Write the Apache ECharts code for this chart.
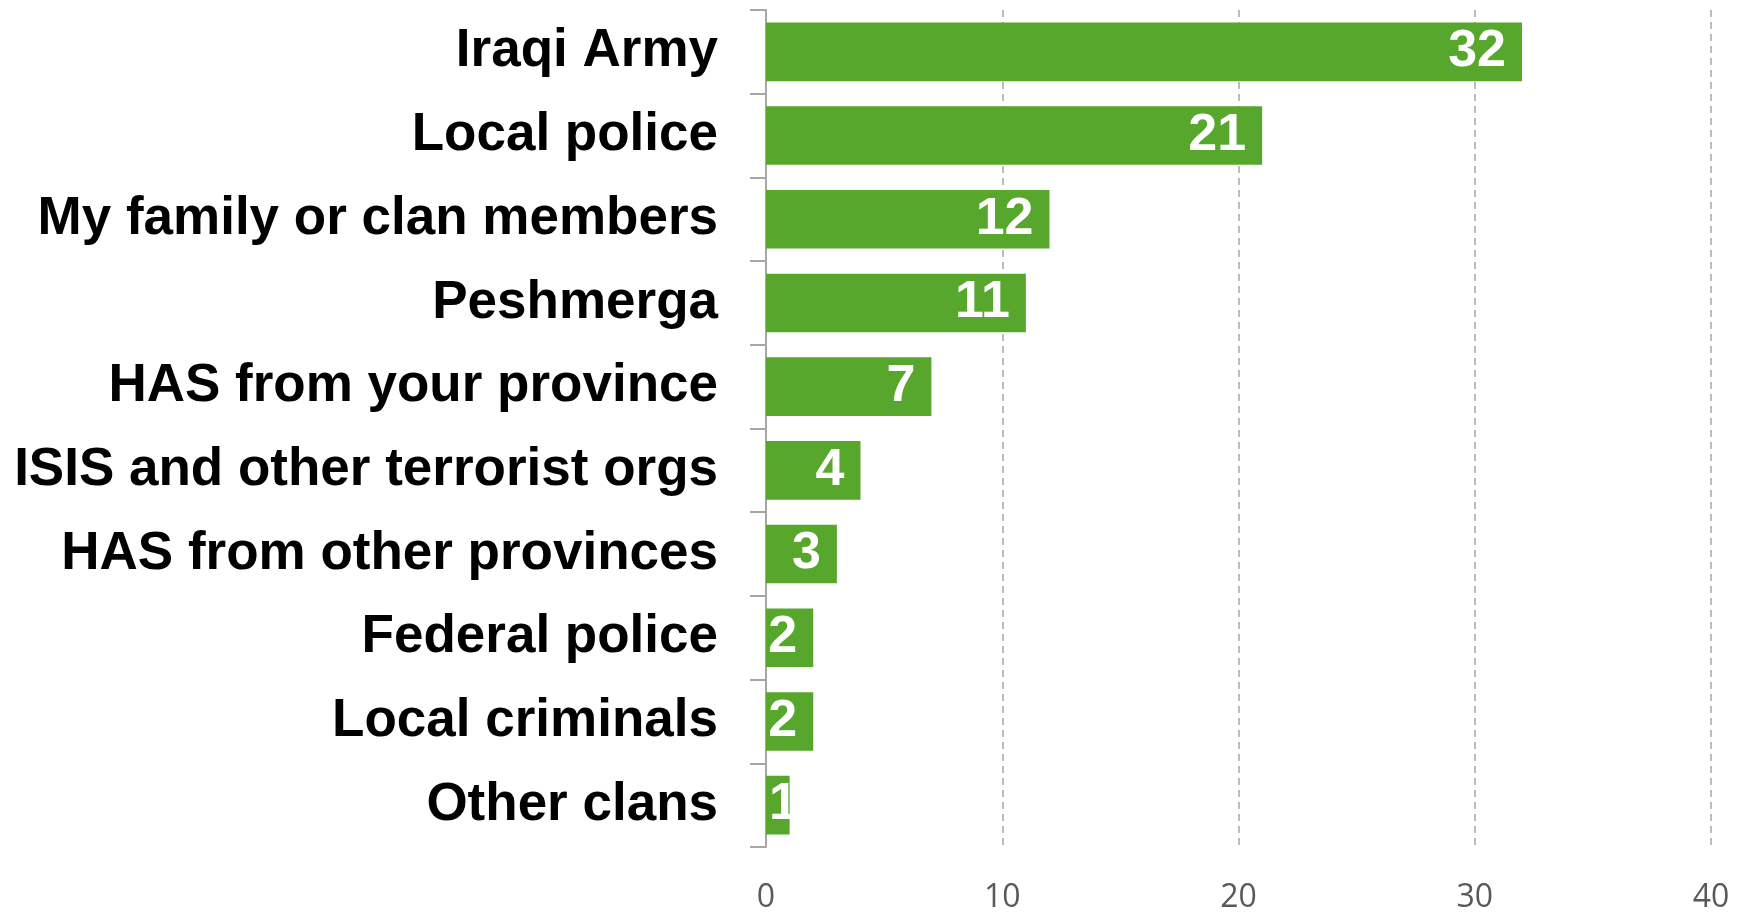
<!DOCTYPE html>
<html>
<head>
<meta charset="utf-8">
<script src="https://cdn.jsdelivr.net/npm/echarts@6/dist/echarts.min.js"></script>
<style>
  html, body { margin: 0; padding: 0; background: #fff; }
  #chart { width: 1742px; height: 914px; }
</style>
</head>
<body>
<div id="chart"></div>
<script>
// 类别和数值
const categories = [
  'Iraqi Army',
  'Local police',
  'My family or clan members',
  'Peshmerga',
  'HAS from your province',
  'ISIS and other terrorist orgs',
  'HAS from other provinces',
  'Federal police',
  'Local criminals',
  'Other clans'
];
const counts = [32, 21, 12, 11, 7, 4, 3, 2, 2, 1];
const xTicks = [0, 10, 20, 30, 40];

const myChart = echarts.init(document.getElementById('chart'));

// 太短的柱子, 标签靠左放
const barData = counts.map((v) => (v < 2
  ? { value: v, label: { position: 'insideLeft', distance: 3 } }
  : v));

myChart.setOption({
  animation: false,
  grid: { left: 766, right: 31, top: 10, bottom: 64 },
  xAxis: {
    type: 'value',
    min: xTicks[0],
    max: xTicks[xTicks.length - 1],
    interval: xTicks[1] - xTicks[0],
    axisLine: { show: false },
    axisTick: { show: false },
    axisLabel: {
      margin: 35,
      fontFamily: 'Open Sans',
      fontSize: 32,
      color: '#595959'
    },
    splitLine: {
      show: true,
      lineStyle: { color: '#a6a6a6', width: 1.5, type: [7, 5] }
    }
  },
  yAxis: {
    type: 'category',
    data: categories,
    inverse: true,
    axisLine: { show: true, lineStyle: { color: '#a6a6a6', width: 2 } },
    axisTick: { show: true, length: 16, lineStyle: { color: '#a6a6a6', width: 2 } },
    axisLabel: {
      margin: 48,
      padding: [6, 0, 0, 0],
      fontFamily: 'Liberation Sans',
      fontWeight: 'bold',
      fontSize: 53,
      color: '#000'
    },
    splitLine: { show: false }
  },
  series: [{
    type: 'bar',
    data: barData,
    barCategoryGap: '30%',
    itemStyle: { color: '#56a72c' },
    label: {
      show: true,
      position: 'insideRight',
      distance: 16,
      padding: [6, 0, 0, 0],
      fontFamily: 'Liberation Sans',
      fontWeight: 'bold',
      fontSize: 52,
      color: '#fff'
    }
  }]
});
</script>
</body>
</html>
